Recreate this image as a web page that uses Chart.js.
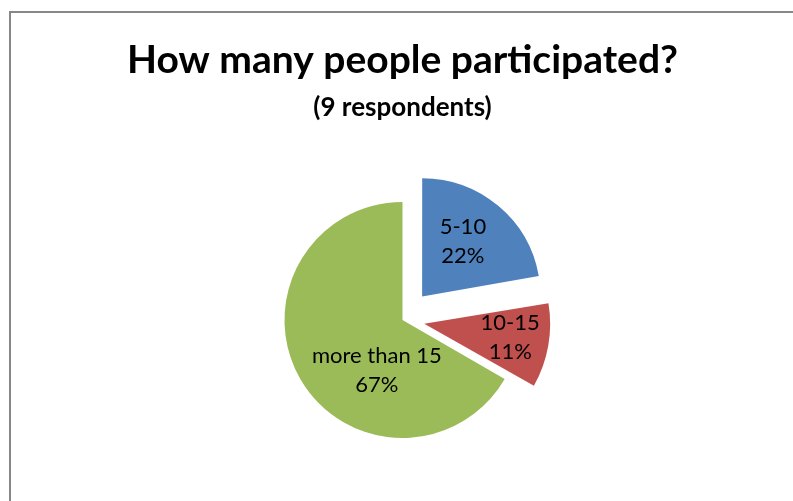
<!DOCTYPE html>
<html>
<head>
<meta charset="utf-8">
<script src="https://cdn.jsdelivr.net/npm/chart.js@4.4.1/dist/chart.umd.min.js"></script>
<style>
  html, body { margin: 0; padding: 0; background: #ffffff; }
  #wrap { position: relative; width: 793px; height: 501px; overflow: hidden; }
  #frame { position: absolute; left: 9px; top: 11px; width: 800px; height: 500px;
           border-left: 2px solid #878787; border-top: 2px solid #878787; box-sizing: border-box; }
  canvas { position: absolute; left: 0; top: 0; }
</style>
</head>
<body>
<div id="wrap">
  <div id="frame"></div>
  <canvas id="c" width="793" height="501"></canvas>
</div>
<script>
// ---- data ----
const categories = ['5-10', '10-15', 'more than 15'];
const counts = [2, 1, 6];
const sliceColors = ['#4F81BD', '#C0504D', '#9BBB59'];
const titleText = 'How many people participated?';
const subtitleText = '(9 respondents)';
// explode distance in px per slice (0 = not exploded)
const explodePx = [31, 30, 0];
// label placement within slice: angular fraction and radial fraction
const labelAngleFrac = [0.458, 0.466, 0.362];
const labelRadiusFrac = [0.575, 0.67, 0.48];

const total = counts.reduce((a, b) => a + b, 0);
const pieRadius = 118;
const FONT = 'Lato';

// Chart.js arc draw translates by offset/4*(2-sin(min(PI,circ)))
const arcOffsets = counts.map((v, i) => {
  const circ = 2 * Math.PI * v / total;
  return explodePx[i] ? 4 * explodePx[i] / (2 - Math.sin(Math.min(Math.PI, circ))) : 0;
});

const sliceLabels = {
  id: 'sliceLabels',
  afterDatasetsDraw(chart) {
    const ctx = chart.ctx;
    const meta = chart.getDatasetMeta(0);
    ctx.save();
    ctx.fillStyle = '#000000';
    ctx.font = '22px ' + FONT;
    ctx.textAlign = 'center';
    ctx.textBaseline = 'middle';
    meta.data.forEach((arc, i) => {
      const p = arc.getProps(['x', 'y', 'startAngle', 'endAngle', 'outerRadius'], true);
      const mid = (p.startAngle + p.endAngle) / 2;
      const cx = p.x + Math.cos(mid) * explodePx[i];
      const cy = p.y + Math.sin(mid) * explodePx[i];
      const a = p.startAngle + labelAngleFrac[i] * (p.endAngle - p.startAngle);
      const r = labelRadiusFrac[i] * p.outerRadius;
      const lx = cx + Math.cos(a) * r;
      const ly = cy + Math.sin(a) * r;
      const pct = Math.round(counts[i] / total * 100) + '%';
      ctx.fillText(categories[i], lx, ly - 14.5);
      ctx.fillText(pct, lx, ly + 14.5);
    });
    ctx.restore();
  }
};

new Chart(document.getElementById('c'), {
  type: 'pie',
  data: {
    labels: categories,
    datasets: [{
      data: counts,
      backgroundColor: sliceColors,
      borderWidth: 0,
      offset: arcOffsets
    }]
  },
  options: {
    responsive: false,
    animation: false,
    radius: pieRadius,
    layout: { padding: { left: 12, right: 0, top: 0, bottom: 0 } },
    plugins: {
      legend: { display: false },
      tooltip: { enabled: false },
      title: {
        display: true, text: titleText, color: '#000000',
        font: { family: FONT, size: 39, weight: 'bold', lineHeight: 1.2 },
        padding: { top: 37, bottom: 0 }
      },
      subtitle: {
        display: true, text: subtitleText, color: '#000000',
        font: { family: FONT, size: 26, weight: 'bold', lineHeight: 1.2 },
        padding: { top: 8, bottom: 16 }
      }
    }
  },
  plugins: [sliceLabels]
});
</script>
</body>
</html>
